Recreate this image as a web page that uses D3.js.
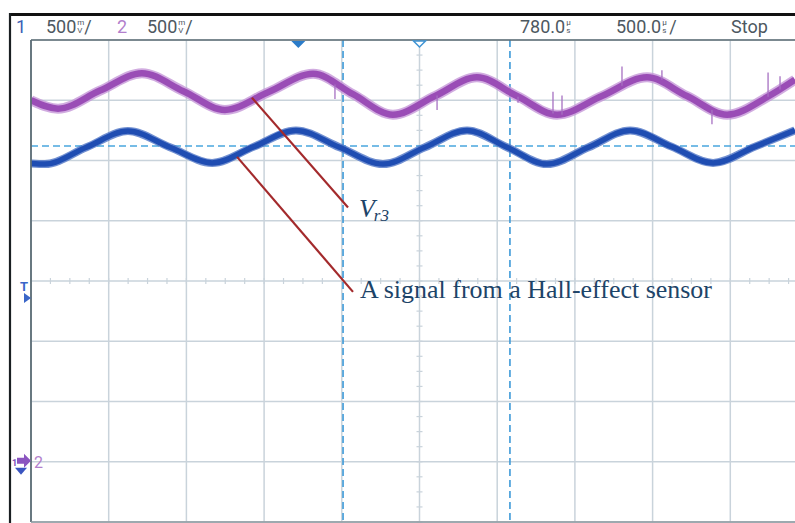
<!DOCTYPE html>
<html><head><meta charset="utf-8">
<script src="https://cdn.jsdelivr.net/npm/d3@7"></script>
<style>html,body{margin:0;padding:0;background:#fff;} svg{display:block;}</style>
</head><body>
<svg id="c" width="795" height="523"></svg>
<script>
// Time in µs (500 µs/div, 10 div); voltage in V (500 mV/div, 8 div)
const timeDomain = [0, 5000];
const voltDomain = [-2, 2];
const timeDivs = d3.range(0, 5001, 500);
const voltDivs = d3.range(-2, 2.001, 0.5);

// Channel 1: signal from a Hall-effect sensor (blue)
const hallT = [0, 90, 357, 624, 894, 1165, 1435, 1705, 1985, 2265, 2535, 2806, 3063, 3320, 3588, 3855, 4122, 4389, 4659, 4916];
const hallV = [0.975, 0.97, 1.11, 1.245, 1.11, 0.98, 1.115, 1.25, 1.11, 0.97, 1.11, 1.25, 1.11, 0.97, 1.11, 1.25, 1.115, 0.98, 1.115, 1.25];

// Channel 2: Vr3 (purple)
const vr3T = [0, 174, 444, 714, 981, 1248, 1532, 1815, 2072, 2329, 2600, 2870, 3127, 3385, 3674, 3964, 4221, 4479, 4749, 4916];
const vr3V = [1.50, 1.43, 1.58, 1.725, 1.575, 1.42, 1.57, 1.72, 1.55, 1.38, 1.535, 1.69, 1.535, 1.38, 1.535, 1.69, 1.535, 1.38, 1.535, 1.67];

// Glitch spikes on Vr3
const spikeT    = [1956, 2613, 3134, 3359, 3417, 3803, 4060, 4382, 4743, 4820];
const spikeFrom = [1.63, 1.54, 1.53, 1.39, 1.38, 1.62, 1.67, 1.42, 1.53, 1.59];
const spikeTo   = [1.51, 1.42, 1.48, 1.57, 1.54, 1.78, 1.75, 1.30, 1.73, 1.70];

const cursorTimes = [2008, 3082];
const cursorVolt = 1.12;
const triggerTime = 1720;
const centerTime = 2500;

const headerTexts = ["1", "500", "2", "500", "780.0", "500.0", "Stop"];
const annoLabels = ["V", "r3", "A signal from a Hall-effect sensor"];

const svg = d3.select("#c");
const L = 31, R = 808, T = 40, B = 522;
const x = d3.scaleLinear().domain(timeDomain).range([L, R]);
const y = d3.scaleLinear().domain(voltDomain).range([B, T]);

svg.append("rect").attr("width", 795).attr("height", 523).attr("fill", "#fff");
svg.append("defs").append("clipPath").attr("id", "pc")
  .append("rect").attr("x", L).attr("y", T).attr("width", R - L).attr("height", B - T);

const grid = svg.append("g");
const gridCol = "#c9d3db";
grid.selectAll("line.v").data(timeDivs).join("line")
  .attr("x1", d => x(d)).attr("x2", d => x(d)).attr("y1", T).attr("y2", B)
  .attr("stroke", gridCol).attr("stroke-width", 1.5);
grid.selectAll("line.h").data(voltDivs).join("line")
  .attr("x1", L).attr("x2", R).attr("y1", d => y(d)).attr("y2", d => y(d))
  .attr("stroke", gridCol).attr("stroke-width", 1.5);
// minor ticks on centre axes
grid.selectAll("line.mx").data(d3.range(0, 5001, 125)).join("line")
  .attr("x1", d => x(d)).attr("x2", d => x(d)).attr("y1", y(0) - 3).attr("y2", y(0) + 3)
  .attr("stroke", gridCol).attr("stroke-width", 1.2);
grid.selectAll("line.my").data(d3.range(-2, 2.001, 0.125)).join("line")
  .attr("x1", x(centerTime) - 3).attr("x2", x(centerTime) + 3).attr("y1", d => y(d)).attr("y2", d => y(d))
  .attr("stroke", gridCol).attr("stroke-width", 1.2);

// cursors
const cur = svg.append("g").attr("clip-path", "url(#pc)");
cur.selectAll("line.c").data(cursorTimes).join("line")
  .attr("x1", d => x(d)).attr("x2", d => x(d)).attr("y1", T).attr("y2", B)
  .attr("stroke", "#3d9ad8").attr("stroke-width", 1.6).attr("stroke-dasharray", "7,4");
cur.append("line").attr("x1", L).attr("x2", R).attr("y1", y(cursorVolt)).attr("y2", y(cursorVolt))
  .attr("stroke", "#4aa6de").attr("stroke-width", 1.6).attr("stroke-dasharray", "7,4");

// waveforms
const line = d3.line().x(d => x(d[0])).y(d => y(d[1])).curve(d3.curveMonotoneX);
const wave = svg.append("g").attr("clip-path", "url(#pc)");
const vr3 = vr3T.map((t, i) => [t, vr3V[i]]);
const hall = hallT.map((t, i) => [t, hallV[i]]);
wave.append("path").attr("d", line(vr3)).attr("fill", "none").attr("stroke", "#c597d8").attr("stroke-width", 10).attr("stroke-opacity", 0.8);
wave.append("path").attr("d", line(vr3)).attr("fill", "none").attr("stroke", "#9a4db6").attr("stroke-width", 6.5);
wave.selectAll("line.sp").data(spikeT).join("line")
  .attr("x1", d => x(d)).attr("x2", d => x(d))
  .attr("y1", (d, i) => y(spikeFrom[i])).attr("y2", (d, i) => y(spikeTo[i]))
  .attr("stroke", "#a670c2").attr("stroke-width", 1.3);
wave.append("path").attr("d", line(hall)).attr("fill", "none").attr("stroke", "#4f74c6").attr("stroke-width", 8).attr("stroke-opacity", 0.8);
wave.append("path").attr("d", line(hall)).attr("fill", "none").attr("stroke", "#1f4db2").attr("stroke-width", 5.5);

// annotations (anchors in data coordinates)
const anno = svg.append("g");
const annoLines = [
  [[1422, 1.52], [2040, 0.61]],
  [[1326, 1.03], [2072, -0.09]]
];
anno.selectAll("line").data(annoLines).join("line")
  .attr("x1", d => x(d[0][0])).attr("y1", d => y(d[0][1]))
  .attr("x2", d => x(d[1][0])).attr("y2", d => y(d[1][1]))
  .attr("stroke", "#a32a2c").attr("stroke-width", 2.2);
const t1 = anno.append("text").attr("x", x(2110)).attr("y", y(0.53))
  .attr("font-family", "Liberation Serif, Times New Roman, serif").attr("font-style", "italic")
  .attr("font-size", 26).attr("fill", "#1d4468");
t1.append("tspan").text(annoLabels[0]);
t1.append("tspan").attr("font-size", 17).attr("dy", 4).attr("dx", -1).text(annoLabels[1]);
anno.append("text").attr("x", x(2117)).attr("y", y(-0.14))
  .attr("font-family", "Liberation Serif, Times New Roman, serif")
  .attr("font-size", 26).attr("fill", "#1d4468")
  .attr("textLength", 352).attr("lengthAdjust", "spacingAndGlyphs")
  .text(annoLabels[2]);

// frame
svg.append("line").attr("x1", 9).attr("x2", 795).attr("y1", 14.5).attr("y2", 14.5).attr("stroke", "#111").attr("stroke-width", 3);
svg.append("line").attr("x1", 10).attr("x2", 10).attr("y1", 13).attr("y2", 523).attr("stroke", "#1a1f22").attr("stroke-width", 2.2);
svg.append("line").attr("x1", L).attr("x2", 795).attr("y1", T).attr("y2", T).attr("stroke", "#5d6d75").attr("stroke-width", 1.6);
svg.append("line").attr("x1", L).attr("x2", L).attr("y1", T).attr("y2", B).attr("stroke", "#5d6d75").attr("stroke-width", 1.8);
svg.append("line").attr("x1", L).attr("x2", 795).attr("y1", B).attr("y2", B).attr("stroke", "#8a979e").attr("stroke-width", 1.4);

// header
const hdr = svg.append("g").attr("font-family", "Roboto, Liberation Sans, sans-serif").attr("font-size", 18).attr("fill", "#4d585f");
const hpos = [[16, "#3a5fb5"], [46, null], [117, "#b27fcc"], [147, null], [520, null], [616, null], [731, null]];
const hwidths = [];
headerTexts.forEach((s, i) => {
  const t = hdr.append("text").attr("x", hpos[i][0]).attr("y", 33).text(s);
  if (hpos[i][1]) t.attr("fill", hpos[i][1]);
  hwidths.push(hpos[i][0] + t.node().getComputedTextLength());
});
function stacked(xp, top, bot, slash) {
  const g = hdr.append("g");
  const t = g.append("text").attr("font-size", 8);
  t.append("tspan").attr("x", xp).attr("y", 25).text(top);
  t.append("tspan").attr("x", xp).attr("y", 33).text(bot);
  if (slash) g.append("text").attr("x", xp + 7).attr("y", 33).text("/");
}
stacked(hwidths[1] + 1, "m", "V", true);
stacked(hwidths[3] + 1, "m", "V", true);
stacked(hwidths[4] + 1, "µ", "s", false);
stacked(hwidths[5] + 1, "µ", "s", true);

// markers
const mk = svg.append("g");
const tx = x(triggerTime);
mk.append("path").attr("d", `M${tx-7},${T+1} L${tx+7},${T+1} L${tx},${T+8} Z`).attr("fill", "#2b7cc9");
const cx = x(centerTime);
mk.append("path").attr("d", `M${cx-6},${T+1} L${cx+6},${T+1} L${cx},${T+7} Z`).attr("fill", "#fff").attr("stroke", "#3f94d4").attr("stroke-width", 1.5);
// trigger level marker on left
mk.append("text").attr("x", 20).attr("y", y(0) + 10).attr("font-family", "Roboto, sans-serif").attr("font-size", 13).attr("font-weight", "bold").attr("fill", "#3a66c8").text("T");
mk.append("path").attr("d", `M24,${y(0)+12} L31,${y(0)+17} L24,${y(0)+22} Z`).attr("fill", "#3a66c8");
// channel ground markers
const gy = y(-1.5);
mk.append("text").attr("x", 34).attr("y", gy + 6).attr("font-family", "Roboto, sans-serif").attr("font-size", 16).attr("fill", "#b27fcc").text("2");
mk.append("text").attr("x", 12).attr("y", gy + 4).attr("font-family", "Roboto, sans-serif").attr("font-size", 9).attr("font-weight", "bold").attr("fill", "#7b4fb8").text("1");
mk.append("path").attr("d", `M17,${gy-4} L24,${gy-4} L24,${gy-8} L31,${gy-1} L24,${gy+6} L24,${gy+2} L17,${gy+2} Z`).attr("fill", "#8b55c0");
mk.append("path").attr("d", `M15,${gy+6} L27,${gy+6} L21,${gy+13} Z`).attr("fill", "#3a55c0");
</script>
</body></html>
